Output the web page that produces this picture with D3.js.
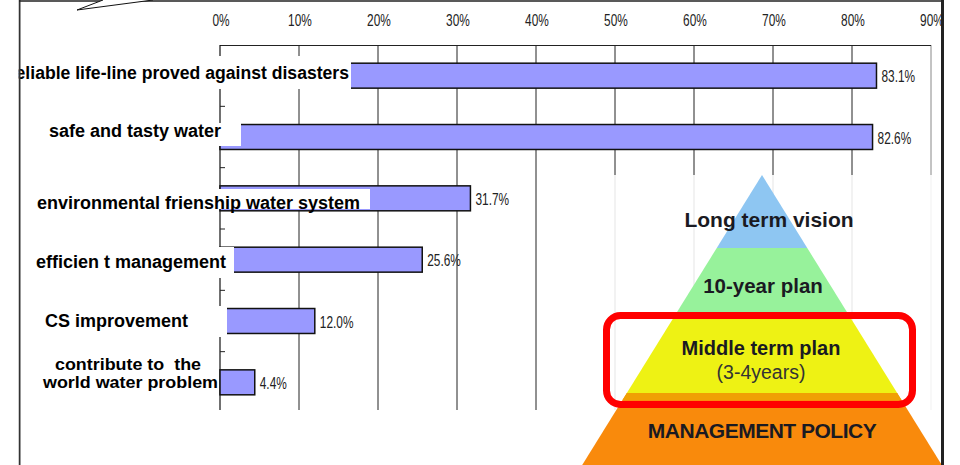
<!DOCTYPE html>
<html>
<head>
<meta charset="utf-8">
<script src="https://cdn.jsdelivr.net/npm/d3@7"></script>
<style>
  html, body { margin: 0; padding: 0; background: #fff; }
  svg { display: block; }
  .lbl { font-family: "Liberation Sans", Arial, sans-serif; font-weight: bold; font-size: 18px; fill: #000; }
  .num { font-family: "Liberation Sans", Arial, sans-serif; font-size: 16.5px; fill: #222; }
  .pyr { font-family: "Liberation Sans", Arial, sans-serif; font-weight: bold; fill: #1a1a22; }
</style>
</head>
<body>
<svg id="chart" width="960" height="465"></svg>
<script>
// data
const categories = [
  "reliable life-line proved against disasters",
  "safe and tasty water",
  "environmental frienship water system",
  "efficien t management",
  "CS improvement",
  "contribute to  the\nworld water problem"
];
const values = [83.1, 82.6, 31.7, 25.6, 12.0, 4.4];
const xTicks = [0, 10, 20, 30, 40, 50, 60, 70, 80, 90];
const pyramidTiers = ["Long term vision", "10-year plan", "Middle term plan\n(3-4years)", "MANAGEMENT POLICY"];

// layout bits (label placement on the slide is irregular)
const labelRight = [349, 221, 360, 226, 188, 218];
const labelDy = [3, 0, 11, 8, 5.5, 6];
const boxRight = [351, 241, 370, 234, 227, 0];
const boxTop = [56, 123, 189, 247, 306, 0];
const boxBot = [89, 146, 209, 278, 337, 0];
const twoLineWidths = [146, 175];

const svg = d3.select("#chart");
const x = d3.scaleLinear().domain([0, 90]).range([220, 931]);
const y = d3.scaleBand().domain(categories).range([45, 413]).paddingInner(0.593).paddingOuter(0.2965);
const plotTop = 45, plotBottom = 410;
// narrow gothic look of the numbers: squeeze a regular face
const narrow = (px, py) => `translate(${px},${py}) scale(0.72,1)`;

// gridlines
svg.append("g").selectAll("line")
  .data(xTicks.filter(d => d > 0))
  .enter().append("line")
  .attr("x1", d => x(d)).attr("x2", d => x(d))
  .attr("y1", plotTop).attr("y2", plotBottom)
  .attr("stroke", d => d === 90 ? "#888" : "#222")
  .attr("stroke-width", 1);

// top line + left axis
svg.append("line").attr("x1", x(0)).attr("x2", x(90)).attr("y1", plotTop + 0.5).attr("y2", plotTop + 0.5).attr("stroke", "#222");
svg.append("line").attr("x1", x(0)).attr("x2", x(0)).attr("y1", plotTop).attr("y2", plotBottom).attr("stroke", "#111").attr("stroke-width", 1.2);

// category boundary ticks
const step = y.step();
svg.append("g").selectAll("line")
  .data(d3.range(1, categories.length))
  .enter().append("line")
  .attr("x1", x(0)).attr("x2", x(0) + 5)
  .attr("y1", i => 45 + i * step).attr("y2", i => 45 + i * step)
  .attr("stroke", "#222");

// tick labels
svg.append("g").selectAll("text")
  .data(xTicks)
  .enter().append("text")
  .attr("class", "num")
  .attr("transform", d => narrow(x(d) + 1, 26))
  .attr("text-anchor", "middle")
  .text(d => d + "%");

// bars
svg.append("g").selectAll("rect")
  .data(values)
  .enter().append("rect")
  .attr("x", x(0))
  .attr("y", (d, i) => y(categories[i]))
  .attr("width", d => x(d) - x(0))
  .attr("height", y.bandwidth())
  .attr("fill", "#9999ff")
  .attr("stroke", "#111")
  .attr("stroke-width", 1.5);

// value labels
svg.append("g").selectAll("text")
  .data(values)
  .enter().append("text")
  .attr("class", "num")
  .attr("transform", (d, i) => narrow(x(d) + 5, y(categories[i]) + y.bandwidth() / 2 + 6.5))
  .text(d => d.toFixed(1) + "%");

// white label boxes (they cover the bar starts on the slide)
categories.forEach((c, i) => {
  if (!boxRight[i]) return;
  svg.append("rect")
    .attr("x", 21).attr("y", boxTop[i])
    .attr("width", boxRight[i] - 21).attr("height", boxBot[i] - boxTop[i])
    .attr("fill", "#fff");
});

// category labels
categories.forEach((c, i) => {
  const lines = c.split("\n");
  const cy = y(c) + y.bandwidth() / 2 + labelDy[i];
  const two = lines.length > 1;
  lines.forEach((ln, j) => {
    const t = svg.append("text")
      .attr("class", "lbl")
      .attr("x", j === 0 && two ? labelRight[i] - 17 : labelRight[i])
      .attr("y", cy - (lines.length - 1 - j) * 18)
      .attr("text-anchor", "end")
      .attr("xml:space", "preserve")
      .text(ln);
    if (two) {
      t.style("font-size", "16px")
        .attr("textLength", twoLineWidths[j])
        .attr("lengthAdjust", "spacingAndGlyphs");
    }
    if (i === 0) t.style("font-size", "17.6px");
  });
});

// pyramid picture pasted over the lower right
const pyr = svg.append("g");
pyr.append("rect").attr("x", 568).attr("y", 175).attr("width", 375).attr("height", 290)
  .attr("fill", "#fff").attr("opacity", 0.88);
const apexX = 762, apexY = 175, slope = 0.62;
const breaks = [175, 248, 318, 393, 470];
const tierColors = ["#8ec6f2", "#97f29b", "#eef214", "#f98a0c"];
const hw = yy => (yy - apexY) * slope;
pyramidTiers.forEach((t, i) => {
  const y0 = breaks[i], y1 = breaks[i + 1];
  pyr.append("path")
    .attr("d", `M${apexX - hw(y0)},${y0}L${apexX + hw(y0)},${y0}L${apexX + hw(y1)},${y1}L${apexX - hw(y1)},${y1}Z`)
    .attr("fill", tierColors[i]);
});
// darker seam under the yellow tier
pyr.append("path")
  .attr("d", `M${apexX - hw(393)},393L${apexX + hw(393)},393L${apexX + hw(400)},400L${apexX - hw(400)},400Z`)
  .attr("fill", "#f0a004");

pyr.append("text").attr("class", "pyr").attr("x", 769).attr("y", 227).attr("font-size", 21).attr("text-anchor", "middle").text(pyramidTiers[0]);
pyr.append("text").attr("class", "pyr").attr("x", 763).attr("y", 293).attr("font-size", 20.5).attr("text-anchor", "middle").text(pyramidTiers[1]);
const mid = pyramidTiers[2].split("\n");
pyr.append("text").attr("class", "pyr").attr("x", 761).attr("y", 355).attr("font-size", 20).attr("text-anchor", "middle").text(mid[0]);
pyr.append("text").attr("class", "pyr").attr("x", 761).attr("y", 379).attr("font-size", 19.5)
  .style("font-weight", "normal").style("fill", "#333").attr("text-anchor", "middle").text(mid[1]);
pyr.append("text").attr("class", "pyr").attr("x", 762).attr("y", 438).attr("font-size", 21).attr("text-anchor", "middle").attr("letter-spacing", -0.5).text(pyramidTiers[3]);

// red highlight around the middle tier
pyr.append("rect").attr("x", 606.5).attr("y", 315.5).attr("width", 306).attr("height", 89)
  .attr("rx", 14).attr("fill", "none").attr("stroke", "#ff0000").attr("stroke-width", 7);

// slide frame and callout tail
svg.append("line").attr("x1", 19.5).attr("x2", 19.5).attr("y1", 0).attr("y2", 465).attr("stroke", "#333").attr("stroke-width", 2);
svg.append("line").attr("x1", 942.5).attr("x2", 942.5).attr("y1", 0).attr("y2", 465).attr("stroke", "#222").attr("stroke-width", 3);
svg.append("line").attr("x1", 19).attr("x2", 943).attr("y1", 1).attr("y2", 1).attr("stroke", "#222").attr("stroke-width", 1.5);
svg.append("path").attr("d", "M103,0L77,10L153,0").attr("fill", "#fff").attr("stroke", "#111").attr("stroke-width", 1);
// clip the first label's leading letter behind the frame
svg.append("rect").attr("x", 0).attr("y", 0).attr("width", 18.5).attr("height", 465).attr("fill", "#fff");
</script>
</body>
</html>
